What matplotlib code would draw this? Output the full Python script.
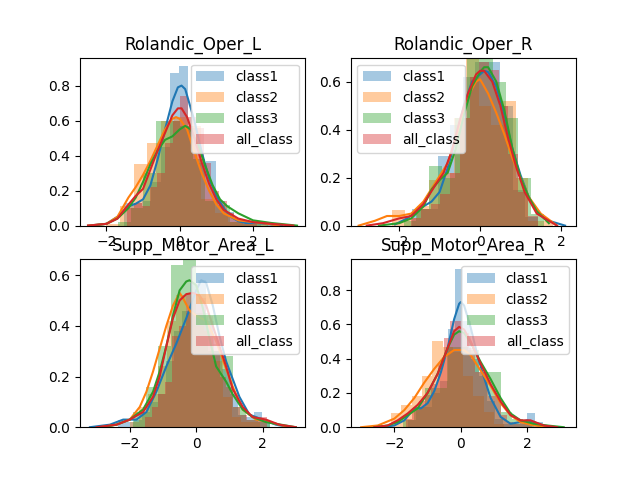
import matplotlib
matplotlib.use("Agg")
import matplotlib.pyplot as plt

titles = ["Rolandic_Oper_L", "Rolandic_Oper_R", "Supp_Motor_Area_L", "Supp_Motor_Area_R"]
classes = ["class1", "class2", "class3", "all_class"]
colors = ["C0", "C1", "C2", "C3"]
limits = [((-2.72, 3.43), (0, 0.96)), ((-3.2, 2.37), (0, 0.70)),
          ((-3.5, 3.29), (0, 0.663)), ((-3.32, 3.47), (0, 0.98))]
legend_locs = ["upper right", "upper left", "upper right", "upper right"]

# histogram: (first edge, bin width, heights) per class
hist_p1 = [(-1.52, 0.25, [.13, .13, .14, .25, .45, .87, .91, .56, .36, .37, .14, .08, .03, .02, .02]),
           (-2.0, 0.37, [.01, .11, .35, .47, .60, .62, .57, .15, .07, .02, .02, .01]),
           (-1.68, 0.34, [.02, .10, .30, .60, .60, .57, .38, .14, .12, .02, .01, .01]),
           (-1.45, 0.21, [.10, .13, .11, .22, .30, .47, .60, .74, .62, .56, .36, .20, .14, .07, .04, .02, .02])]
hist_p2 = [(-1.67, 0.31, [.07, .07, .29, .42, .62, .68, .68, .50, .15, .035]),
           (-2.17, 0.305, [.065, .03, .08, .19, .22, .45, .72, .50, .42, .52, .20, .02, .02]),
           (-1.89, 0.315, [.02, .07, .25, .20, .45, .70, .72, .60, .45, .20, .05]),
           (-1.7, 0.24, [.03, .07, .09, .13, .22, .45, .62, .68, .65, .50, .30, .14, .04])]
hist_p3 = [(-2.35, 0.24, [.03, .02, .03, .06, .10, .13, .26, .38, .46, .57, .58, .42, .30, .23, .13, .05, .04, .06, .02]),
           (-2.0, 0.28, [.02, .08, .13, .24, .42, .52, .45, .40, .38, .26, .12, .04, .02, .02]),
           (-1.89, 0.375, [.06, .16, .32, .64, .67, .45, .30, .28, .08, .03, .02]),
           (-1.55, 0.205, [.04, .08, .13, .18, .36, .40, .53, .53, .51, .44, .33, .20, .16, .08, .05, .03, .03, .04])]
hist_p4 = [(-1.6, 0.24, [.04, .12, .12, .20, .27, .57, .92, .62, .40, .30, .15, .05, .02, .02, .02, .08, .03]),
           (-2.1, 0.31, [.08, .13, .18, .30, .50, .47, .44, .30, .18, .09, .02]),
           (-1.75, 0.33, [.04, .12, .23, .23, .47, .47, .45, .32, .32, .09, .05, .02]),
           (-1.65, 0.19, [.05, .10, .15, .19, .25, .37, .52, .62, .62, .55, .46, .32, .32, .18, .18, .07, .03, .02, .03, .02])]
all_hists = [hist_p1, hist_p2, hist_p3, hist_p4]

# density curves: x, y per class
kde_p1 = [([-2.5, -2, -1.7, -1.4, -1.2, -1, -.8, -.6, -.4, -.2, -.05, .05, .15, .4, .6, .8, 1, 1.2, 1.4, 1.6, 1.8, 2.1, 2.5, 2.8],
           [0, .01, .05, .11, .125, .15, .23, .38, .55, .71, .79, .80, .78, .60, .42, .27, .17, .10, .05, .025, .015, .015, .005, 0]),
          ([-2.5, -2, -1.7, -1.4, -1.2, -1, -.8, -.6, -.4, -.2, -.1, 0, .2, .4, .6, .8, 1, 1.2, 1.6, 2, 2.4, 2.7],
           [0, .01, .05, .16, .22, .29, .37, .46, .55, .61, .62, .61, .55, .42, .30, .20, .12, .07, .03, .02, .01, 0]),
          ([-2.4, -2, -1.7, -1.4, -1.2, -1, -.8, -.6, -.4, -.2, 0, .15, .3, .5, .7, .9, 1.1, 1.3, 1.6, 2, 2.5, 3.2],
           [0, .01, .04, .10, .16, .25, .35, .43, .49, .51, .55, .57, .55, .46, .34, .23, .15, .11, .07, .03, .015, 0]),
          ([-2.5, -2, -1.7, -1.4, -1.2, -1, -.8, -.6, -.4, -.2, -.05, .05, .2, .4, .6, .8, 1, 1.2, 1.6, 2, 2.5, 3.1],
           [0, .01, .04, .12, .17, .21, .32, .43, .53, .63, .67, .67, .62, .50, .36, .24, .15, .09, .04, .02, .01, 0])]
kde_p2 = [([-2.1, -1.8, -1.5, -1.2, -1, -.8, -.6, -.4, -.2, 0, .1, .2, .4, .6, .8, 1, 1.2, 1.4, 1.7, 2.1],
           [.005, .03, .07, .10, .14, .24, .36, .50, .60, .63, .645, .64, .58, .46, .32, .21, .12, .06, .02, 0]),
          ([-3, -2.6, -2.3, -2, -1.7, -1.4, -1.1, -.8, -.5, -.3, -.1, 0, .2, .4, .6, .8, 1, 1.2, 1.5, 1.9],
           [0, .02, .04, .04, .05, .10, .18, .26, .42, .54, .60, .61, .55, .47, .38, .28, .20, .12, .05, 0]),
          ([-2.5, -2, -1.7, -1.4, -1.2, -1, -.8, -.6, -.4, -.2, 0, .1, .2, .4, .6, .8, 1, 1.2, 1.4, 1.7],
           [0, .01, .03, .08, .15, .19, .22, .32, .46, .58, .64, .66, .66, .60, .48, .32, .20, .12, .06, .01]),
          ([-2.8, -2.4, -2, -1.7, -1.4, -1.1, -.9, -.7, -.5, -.3, -.1, 0, .1, .3, .5, .7, .9, 1.1, 1.4, 1.9],
           [0, .01, .03, .04, .09, .17, .22, .31, .44, .55, .63, .645, .645, .60, .50, .36, .24, .14, .05, 0])]
kde_p3 = [([-3.2, -2.6, -2.2, -1.8, -1.5, -1.2, -.9, -.6, -.3, 0, .15, .3, .5, .7, .9, 1.1, 1.3, 1.6, 2, 2.4, 2.8],
           [0, .01, .03, .03, .06, .14, .24, .33, .43, .54, .58, .57, .48, .36, .26, .19, .12, .05, .03, .01, 0]),
          ([-2.9, -2.4, -2, -1.7, -1.5, -1.3, -1.1, -.9, -.7, -.5, -.4, -.2, 0, .3, .6, .9, 1.1, 1.4, 1.8, 2.2, 2.8],
           [0, .01, .03, .08, .14, .22, .31, .40, .48, .53, .51, .46, .44, .42, .34, .23, .16, .07, .03, .02, 0]),
          ([-2.8, -2.4, -2, -1.6, -1.3, -1.1, -.9, -.7, -.5, -.3, -.2, 0, .2, .4, .6, .9, 1.1, 1.4, 1.7, 2.1, 3],
           [0, .01, .03, .07, .14, .22, .32, .44, .54, .575, .58, .56, .47, .35, .24, .18, .13, .07, .04, .02, 0]),
          ([-3, -2.4, -2, -1.6, -1.3, -1.1, -.9, -.7, -.5, -.3, -.1, .1, .3, .6, .9, 1.1, 1.4, 1.7, 2.1, 2.5, 3],
           [0, .01, .03, .06, .12, .20, .32, .43, .50, .525, .53, .52, .48, .36, .24, .15, .08, .04, .03, .01, 0])]
kde_p4 = [([-2.4, -2, -1.7, -1.4, -1.2, -1, -.8, -.6, -.4, -.2, -.05, 0, .1, .3, .5, .7, .9, 1.2, 1.5, 1.8, 2, 2.2, 2.6],
           [0, .01, .04, .11, .11, .14, .21, .32, .46, .63, .72, .73, .71, .58, .42, .29, .17, .06, .02, .03, .04, .03, 0]),
          ([-3, -2.5, -2, -1.7, -1.4, -1.1, -.8, -.5, -.2, -.1, .1, .3, .6, .9, 1.2, 1.5, 1.8, 2.2, 2.7],
           [0, .01, .05, .10, .17, .26, .34, .41, .45, .45, .45, .42, .33, .24, .14, .07, .03, .01, 0]),
          ([-2.6, -2.2, -1.9, -1.6, -1.3, -1, -.7, -.4, -.2, -.05, .1, .3, .6, .9, 1.2, 1.5, 1.8, 2.2, 2.6, 3.1],
           [0, .01, .03, .07, .11, .20, .31, .46, .54, .56, .55, .49, .38, .28, .17, .08, .04, .02, .01, 0]),
          ([-2.6, -2.2, -1.9, -1.6, -1.3, -1, -.7, -.4, -.2, -.05, .1, .3, .6, .9, 1.2, 1.5, 1.8, 2.1, 2.5, 2.9],
           [0, .01, .04, .08, .13, .20, .31, .46, .56, .585, .57, .50, .37, .25, .15, .07, .04, .04, .01, 0])]
all_kdes = [kde_p1, kde_p2, kde_p3, kde_p4]

fig, axes = plt.subplots(2, 2, figsize=(6.4, 4.8), dpi=100)
for i, ax in enumerate(axes.flat):
    for j, name in enumerate(classes):
        start, width, heights = all_hists[i][j]
        lefts = [start + k * width for k in range(len(heights))]
        ax.bar(lefts, heights, width=width, align="edge", color=colors[j],
               alpha=0.4, linewidth=0, label=name)
        xs, ys = all_kdes[i][j]
        ax.plot(xs, ys, color=colors[j], linewidth=1.5)
    ax.set_xlim(*limits[i][0])
    ax.set_ylim(*limits[i][1])
    ax.set_title(titles[i])
    ax.legend(loc=legend_locs[i])
axes[0, 0].set_yticks([0, .2, .4, .6, .8])
axes[0, 1].set_yticks([0, .2, .4, .6])
axes[1, 0].set_yticks([0, .2, .4, .6])
axes[1, 1].set_yticks([0, .2, .4, .6, .8])
for ax in axes.flat:
    ax.set_xticks([-2, 0, 2])
fig.savefig("out.png", dpi=100)
